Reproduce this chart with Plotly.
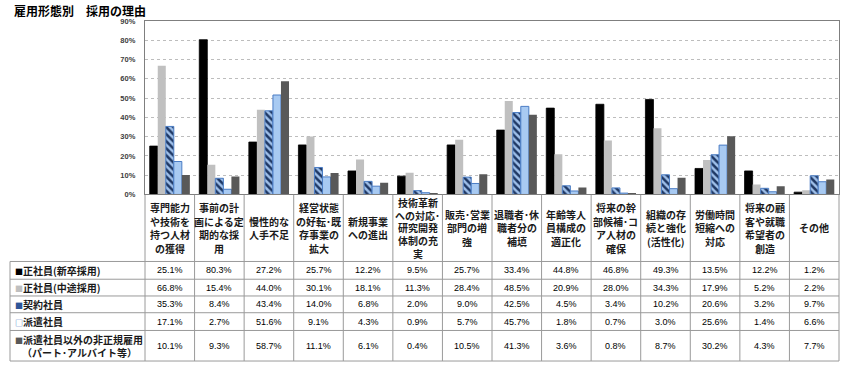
import plotly.graph_objects as go

# ---------------- data ----------------
categories = [
    "専門能力<br>や技術を<br>持つ人材<br>の獲得",
    "事前の計<br>画による定<br>期的な採<br>用",
    "慢性的な<br>人手不足",
    "経営状態<br>の好転･既<br>存事業の<br>拡大",
    "新規事業<br>への進出",
    "技術革新<br>への対応･<br>研究開発<br>体制の充<br>実",
    "販売･営業<br>部門の増<br>強",
    "退職者･休<br>職者分の<br>補填",
    "年齢等人<br>員構成の<br>適正化",
    "将来の幹<br>部候補･コ<br>ア人材の<br>確保",
    "組織の存<br>続と強化<br>(活性化)",
    "労働時間<br>短縮への<br>対応",
    "将来の顧<br>客や就職<br>希望者の<br>創造",
    "その他",
]
series_names = [
    "正社員(新卒採用)",
    "正社員(中途採用)",
    "契約社員",
    "派遣社員",
    "派遣社員以外の非正規雇用<br>（パート･アルバイト等）",
]
seishain_shinsotsu = [25.1, 80.3, 27.2, 25.7, 12.2, 9.5, 25.7, 33.4, 44.8, 46.8, 49.3, 13.5, 12.2, 1.2]
seishain_chuto = [66.8, 15.4, 44.0, 30.1, 18.1, 11.3, 28.4, 48.5, 20.9, 28.0, 34.3, 17.9, 5.2, 2.2]
keiyaku = [35.3, 8.4, 43.4, 14.0, 6.8, 2.0, 9.0, 42.5, 4.5, 3.4, 10.2, 20.6, 3.2, 9.7]
haken = [17.1, 2.7, 51.6, 9.1, 4.3, 0.9, 5.7, 45.7, 1.8, 0.7, 3.0, 25.6, 1.4, 6.6]
hiseiki = [10.1, 9.3, 58.7, 11.1, 6.1, 0.4, 10.5, 41.3, 3.6, 0.8, 8.7, 30.2, 4.3, 7.7]
y_ticks = [0, 10, 20, 30, 40, 50, 60, 70, 80, 90]
title_text = "雇用形態別　採用の理由"

series_values = [seishain_shinsotsu, seishain_chuto, keiyaku, haken, hiseiki]

# ---------------- layout constants (pixels) ----------------
W, H = 847, 372
ML, MR, MT, MB = 8, 6, 21, 4
PLOT_L, PLOT_R = 145, 839      # bar plot area
PLOT_B = 197                   # 0% line
TABLE_L = 10
row_edges = [0, 68, 86, 103, 120, 138, 169]   # table rows, px below the plot
ROW_LS = 13.5

n = len(categories)
inner_w = W - ML - MR
inner_h = H - MT - MB
cat_px = (PLOT_R - PLOT_L) / n
x_dom = [(PLOT_L - ML) / inner_w, (PLOT_R - ML) / inner_w]
y_dom_split = (H - MB - PLOT_B) / inner_h
x2_left = -0.5 - (PLOT_L - ML) / cat_px
x2_right = n - 0.5 + (W - MR - PLOT_R) / cat_px
y2_span = H - MB - PLOT_B

JP = "Noto Sans CJK JP"
AR = "Liberation Sans"
TXT = "#1a1a1a"

styles = [
    dict(marker=dict(color="#000000", line=dict(color="#000000", width=0.8))),
    dict(marker=dict(color="#c0c0c0", line=dict(color="#c0c0c0", width=0))),
    dict(marker=dict(color="#9fc0ea", line=dict(color="#4a7cc4", width=1),
                     pattern=dict(shape="\\", fgcolor="#1f3864", bgcolor="#9fc0ea",
                                  size=5, solidity=0.5, fillmode="replace"))),
    dict(marker=dict(color="#a8caf2", line=dict(color="#4a7cc4", width=1))),
    dict(marker=dict(color="#595959", line=dict(color="#595959", width=0))),
]

fig = go.Figure()
xs = list(range(n))
for name, vals, st in zip(series_names, series_values, styles):
    fig.add_trace(go.Bar(x=xs, y=vals, name=name, xaxis="x", yaxis="y",
                         showlegend=False, hoverinfo="skip", **st))

fig.add_trace(go.Scatter(x=[0], y=[0], xaxis="x2", yaxis="y2", mode="markers",
                         marker=dict(opacity=0), showlegend=False, hoverinfo="skip"))

annotations = []
annotations.append(dict(text="<b>" + title_text + "</b>", xref="paper", yref="paper",
                        x=(12 - ML) / inner_w, y=(H - MB - 10.5) / inner_h,
                        xanchor="left", yanchor="middle", showarrow=False,
                        font=dict(family=JP, size=12, color="#000000")))

def add_lines(text, x, yc, spacing, xanchor, font):
    lines = text.split("<br>")
    k = len(lines)
    for j, ln in enumerate(lines):
        annotations.append(dict(text=ln, xref="x2", yref="y2", x=x,
                                y=yc + (j - (k - 1) / 2) * spacing,
                                xanchor=xanchor, yanchor="middle", showarrow=False,
                                font=font))

head_font = dict(family=JP, size=10, color=TXT, weight="bold")
for i, c in enumerate(categories):
    k = len(c.split("<br>"))
    add_lines(c, i, (row_edges[0] + row_edges[1]) / 2, 13.6 if k < 5 else 12.8,
              "center", head_font)

marker_html = [
    '<span style="color:#000000;font-size:8px">■</span>',
    '<span style="color:#bfbfbf;font-size:8px">■</span>',
    '<span style="color:#2f5597;font-size:8px">■</span>',
    '<span style="color:#4a7cc4;font-size:8px">□</span>',
    '<span style="color:#595959;font-size:8px">■</span>',
]
row_font = dict(family=JP, size=10, color=TXT, weight="bold")
val_font = dict(family=AR, size=9, color="#000000")
for r, (name, mk) in enumerate(zip(series_names, marker_html)):
    yc = (row_edges[r + 1] + row_edges[r + 2]) / 2
    if "<br>" in name:
        add_lines(mk + name, x2_left + (79 - ML) / cat_px, yc, ROW_LS, "center", row_font)
    else:
        add_lines(mk + name, x2_left + (13 - ML) / cat_px, yc, ROW_LS, "left", row_font)
    for i, v in enumerate(series_values[r]):
        annotations.append(dict(text=f"{v:.1f}%", xref="x2", yref="y2", x=i, y=yc,
                                xanchor="center", yanchor="middle", showarrow=False,
                                font=val_font))

shapes = []
LC = "#9a9a9a"
x_table_left = x2_left + (TABLE_L - ML) / cat_px
for i in range(n + 1):
    shapes.append(dict(type="line", xref="x2", yref="y2", x0=i - 0.5, x1=i - 0.5,
                       y0=row_edges[0], y1=row_edges[-1], line=dict(color=LC, width=1)))
shapes.append(dict(type="line", xref="x2", yref="y2", x0=x_table_left, x1=x_table_left,
                   y0=row_edges[1], y1=row_edges[-1], line=dict(color=LC, width=1)))
for e in row_edges[1:]:
    shapes.append(dict(type="line", xref="x2", yref="y2", x0=x_table_left, x1=n - 0.5,
                       y0=e, y1=e, line=dict(color=LC, width=1)))

fig.update_layout(
    width=W, height=H,
    margin=dict(l=ML, r=MR, t=MT, b=MB, pad=0),
    paper_bgcolor="#ffffff", plot_bgcolor="rgba(0,0,0,0)",
    barmode="group", bargap=0.19, bargroupgap=0,
    font=dict(family=JP, size=10, color="#000000"),
    xaxis=dict(domain=x_dom, range=[-0.5, n - 0.5], anchor="y",
               showticklabels=False, showgrid=False, zeroline=False,
               showline=True, mirror=True, linecolor="#7f7f7f", linewidth=1.3,
               ticks=""),
    yaxis=dict(domain=[y_dom_split, 1], range=[0, 90], anchor="x",
               tickvals=y_ticks, ticktext=[f"{t}%" for t in y_ticks],
               tickfont=dict(family=AR, size=7.5, color="#404040", weight="bold"),
               showgrid=True, gridcolor="#bdbdbd", griddash="dot", gridwidth=1,
               zeroline=False, showline=True, mirror=True,
               linecolor="#7f7f7f", linewidth=1.3, ticks="", ticklabelstandoff=7),
    xaxis2=dict(domain=[0, 1], range=[x2_left, x2_right], anchor="y2",
                visible=False, fixedrange=True),
    yaxis2=dict(domain=[0, y_dom_split], range=[y2_span, 0], anchor="x2",
                visible=False, fixedrange=True),
    annotations=annotations,
    shapes=shapes,
)

fig.write_html("out.html", config={"displayModeBar": False},
               post_script="document.body.style.margin='0';document.body.style.overflow='hidden';")
